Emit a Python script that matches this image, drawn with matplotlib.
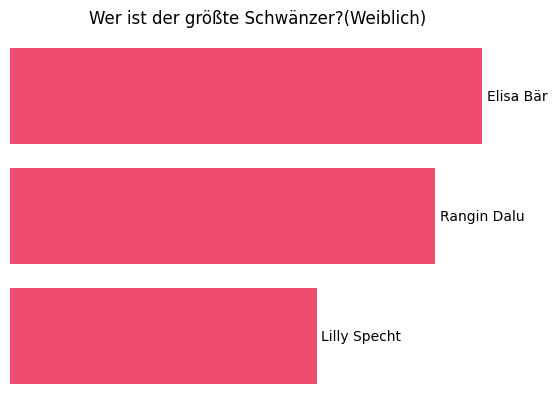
import matplotlib
matplotlib.use("Agg")
import matplotlib.pyplot as plt

names = ["Elisa Bär", "Rangin Dalu", "Lilly Specht"]
counts = [20, 18, 13]

fig = plt.figure(figsize=(5.57, 4.11), dpi=100)
ax = fig.add_axes([10 / 557, 10 / 411, 496 / 557, 370 / 411])

ypos = list(range(len(names)))
bars = ax.barh(ypos, counts, height=0.8, color="#EF4D6F")
ax.set_xlim(0, 21)
ax.set_ylim(2.54, -0.54)

for b, name in zip(bars, names):
    ax.annotate(name, (b.get_width(), b.get_y() + b.get_height() / 2),
                xytext=(3.2, -0.6), textcoords="offset points",
                va="center", ha="left", fontsize=10)

ax.axis("off")
ax.set_title("Wer ist der größte Schwänzer?(Weiblich)", fontsize=12, pad=5.2)

fig.savefig("out.png", dpi=100)
